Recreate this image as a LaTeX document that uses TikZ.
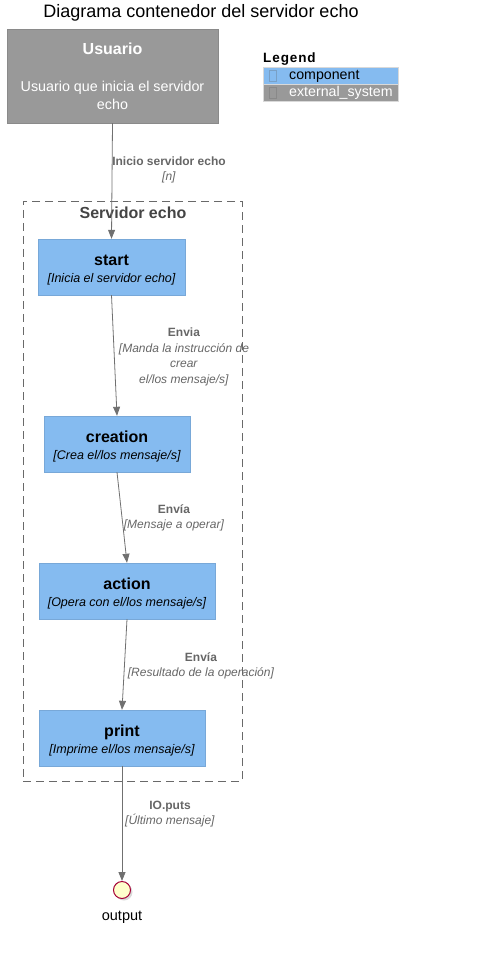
\documentclass[tikz,border=0pt]{standalone}
\usepackage{fontspec}
\setmainfont{Liberation Sans}
\usepackage{tikz}
\usetikzlibrary{arrows.meta}
\usetikzlibrary{shadows}

\definecolor{compfill}{HTML}{85BBF0}
\definecolor{compline}{HTML}{78A8D8}
\definecolor{extfill}{HTML}{999999}
\definecolor{extline}{HTML}{8A8A8A}
\definecolor{linegrey}{HTML}{707070}
\definecolor{labgrey}{HTML}{666666}
\definecolor{boundgrey}{HTML}{444444}
\definecolor{outfill}{HTML}{FFFFCC}
\definecolor{outline}{HTML}{A50036}

\newcommand{\fs}[1]{\fontsize{#1}{#1}\selectfont}

\begin{document}
\begin{tikzpicture}[x=1pt, y=-1pt,
  comp/.style={draw=compline, fill=compfill, align=center, inner sep=0pt, minimum height=56pt,
               font=\fontsize{12.5}{17}\selectfont},
  rel/.style={draw=linegrey, line width=0.8pt, -{Triangle[length=9pt, width=7pt]}},
  elabel/.style={align=center, text=labgrey, font=\fontsize{12}{15.5}\selectfont}]
\useasboundingbox (0,0) rectangle (476,973);
\node[font=\fs{18}] (title) at (201,13) {Diagrama contenedor del servidor echo};
% usuario
\node[draw=extline, fill=extfill, text=white, align=center, inner sep=0pt,
      minimum width=211pt, minimum height=94pt, font=\fontsize{14.3}{18}\selectfont] (usuario) at (112.5,76)
      {{\fs{16}\bfseries Usuario}\\[19pt]Usuario que inicia el servidor\\echo};
% legend
\node[font=\fs{13.5}\bfseries, anchor=west, inner sep=0pt] (legend) at (263,59)
      {L\kern0.9pt e\kern0.9pt g\kern0.9pt e\kern0.9pt n\kern0.9pt d};
\draw[draw=white!85!black, fill=compfill] (263,67) rectangle (398,84);
\draw[draw=white!85!black, fill=extfill] (263,84) rectangle (398,101);
\draw[draw=compline!80!gray, line width=0.3pt] (269,70) rectangle (276,81);
\draw[draw=extline!90!gray, line width=0.3pt] (269,87) rectangle (276,98);
\node[font=\fs{14.2}, anchor=west, inner sep=0pt] (lcomp) at (289,76) {component};
\node[font=\fs{14.2}, anchor=west, inner sep=0pt, text=white] (lext) at (289,93) {external\_system};
% boundary
\node[draw=boundgrey!80, dash pattern=on 8pt off 5pt, minimum width=219pt, minimum height=580pt,
      inner sep=0pt] (srv) at (132.5,491) {};
\node[font=\fs{16}\bfseries, text=boundgrey] (srvlabel) at (133,213) {Servidor echo};
% componentes
\node[comp, minimum width=147pt] (start) at (111.5,267)
      {\rule{0pt}{17pt}{\fs{16}\bfseries start}\\{\itshape [Inicia el servidor echo]}};
\node[comp, minimum width=146pt] (creation) at (117,444)
      {\rule{0pt}{17pt}{\fs{16}\bfseries creation}\\{\itshape [Crea el/los mensaje/s]}};
\node[comp, minimum width=176pt] (action) at (127,591)
      {\rule{0pt}{17pt}{\fs{16}\bfseries action}\\{\itshape [Opera con el/los mensaje/s]}};
\node[comp, minimum width=166pt] (print) at (122,738)
      {\rule{0pt}{17pt}{\fs{16}\bfseries print}\\{\itshape [Imprime el/los mensaje/s]}};
\node[circle, draw=outline, fill=outfill, line width=1pt, minimum size=17pt, inner sep=0pt,
      drop shadow={opacity=0.3, shadow xshift=2pt, shadow yshift=-2pt},
      label={[font=\fs{14.5}, label distance=9pt]below:output}] (output) at (122,890) {};
% relaciones
\draw[rel] (usuario.south) -- (start.north);
\draw[rel] (start.south) -- (creation.north);
\draw[rel] (creation.south) -- (action.north);
\draw[rel] (action.south) -- (print.north);
\draw[rel] (print.south) -- (output.north);
\node[elabel] (l1) at (169,170) {\textbf{Inicio servidor echo}\\\textit{[n]}};
\node[elabel] (l2) at (184,357) {\textbf{Envia}\\\textit{[Manda la instrucción de}\\\textit{crear}\\\textit{el/los mensaje/s]}};
\node[elabel] (l3) at (174,518) {\textbf{Envía}\\\textit{[Mensaje a operar]}};
\node[elabel] (l4) at (201,666) {\textbf{Envía}\\\textit{[Resultado de la operación]}};
\node[elabel] (l5) at (170,814) {\textbf{IO.puts}\\\textit{[Último mensaje]}};
\end{tikzpicture}
\end{document}
